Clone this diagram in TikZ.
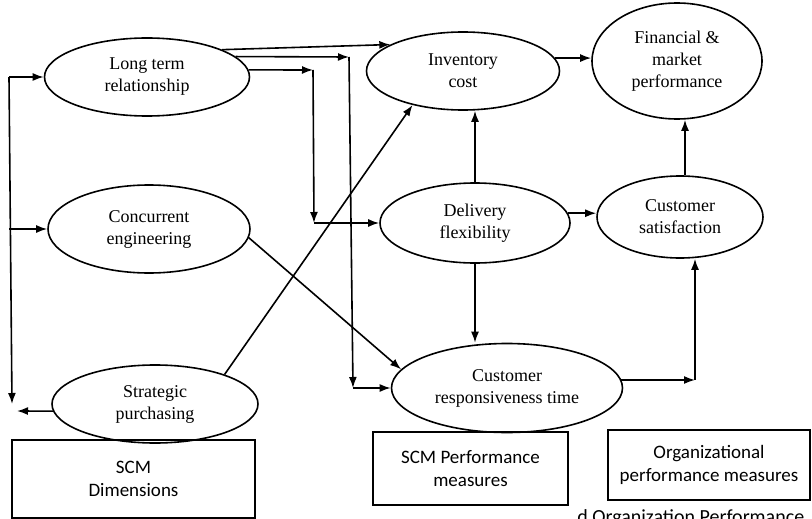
\documentclass[tikz,border=0pt]{standalone}
\usepackage{fontspec}
\setmainfont{Liberation Serif}
\newfontfamily\labelsans{Carlito}
\usetikzlibrary{shapes.geometric,arrows.meta}

\begin{document}
\begin{tikzpicture}[x=1pt,y=-1pt,
  line width=1.6pt,
  construct/.style={ellipse,draw,inner sep=0pt,align=center,
    font=\fontsize{18}{22}\selectfont},
  groupbox/.style={rectangle,draw,inner sep=0pt,align=center,
    font=\labelsans\fontsize{19}{23}\selectfont},
  arr/.style={-{Latex[length=11pt,width=8pt]}}
]
\clip (0,0) rectangle (812,519);

% SCM dimensions
\node[construct,minimum width=205pt,minimum height=78pt] (ltr) at (147,77) {Long term\\relationship};
\node[construct,minimum width=202pt,minimum height=88pt] (ce)  at (149,229) {Concurrent\\engineering};
\node[construct,minimum width=206pt,minimum height=78pt] (sp)  at (155,404) {Strategic\\purchasing};

% SCM performance measures
\node[construct,minimum width=193pt,minimum height=78pt] (ic)  at (463,71) {Inventory\\cost};
\node[construct,minimum width=190pt,minimum height=80pt] (df)  at (475,223) {Delivery\\flexibility};
\node[construct,minimum width=231pt,minimum height=89pt] (crt) at (507,388) {Customer\\responsiveness time};

% organizational performance measures
\node[construct,minimum width=170pt,minimum height=116pt] (fmp) at (677,61) {Financial \&\\market\\performance};
\node[construct,minimum width=166pt,minimum height=82pt]  (cs)  at (680,217) {Customer\\satisfaction};

% group labels
\node[groupbox,minimum width=243pt,minimum height=78pt] (dimbox)  at (133.5,479) {SCM\\Dimensions};
\node[groupbox,minimum width=195pt,minimum height=73pt] (perfbox) at (470.5,468.5) {SCM Performance\\measures};
\node[groupbox,minimum width=202pt,minimum height=70pt] (orgbox)  at (709,465) {Organizational\\performance measures};

% caption line, cut by the page edge
\node[anchor=base east,inner sep=0pt,font=\labelsans\fontsize{20}{24}\selectfont] (caption) at (805,523) {d Organization Performance};

% left feedback spine
\coordinate (spineTop) at (9,77);
\coordinate (spineBot) at (12,404);
\coordinate (spOut) at (17,411);
\draw[arr] (spineTop) -- (spineBot);
\draw[arr] (spineTop) -- (ltr.west);
\draw[arr] (spineTop |- ce.west) -- (ce.west);
\draw[arr] (sp.184) -- (spOut);

% long term relationship links
\draw[arr] (ltr.20) -- (ic.160);
\coordinate (ra1) at (349,57);
\coordinate (ra2) at (353,388);
\draw[arr] (ltr.13) -- (ra1);
\draw[arr] (ra1) -- (ra2);
\draw[arr] (ra2) -- (crt.west);
\coordinate (rb1) at (313,70);
\coordinate (rb2) at (314,223);
\draw[arr] (ltr.4) -- (rb1);
\draw[arr] (rb1) -- (rb2);
\draw[arr] (rb2) -- (df.west);

% diagonal links
\draw[arr] (sp.23) -- (ic.214);
\draw[arr] (ce.355) -- (crt.170);

% performance links
\draw[arr] (ic.8) -- (ic.8 -| fmp.west);
\draw[arr] (df.north) -- (df.north |- ic.south);
\draw[arr] (df.6) -- (df.6 -| cs.west);
\draw[arr] ([xshift=5pt]cs.north) -- ([xshift=5pt]cs.north |- fmp.south);
\draw[arr] (df.south) -- (df.south |- crt.north);
\coordinate (rc) at (695,381);
\draw[arr] (crt.4) -- (crt.4 -| rc);
\draw[arr] (crt.4 -| rc) -- (rc |- cs.south);
\end{tikzpicture}
\end{document}
